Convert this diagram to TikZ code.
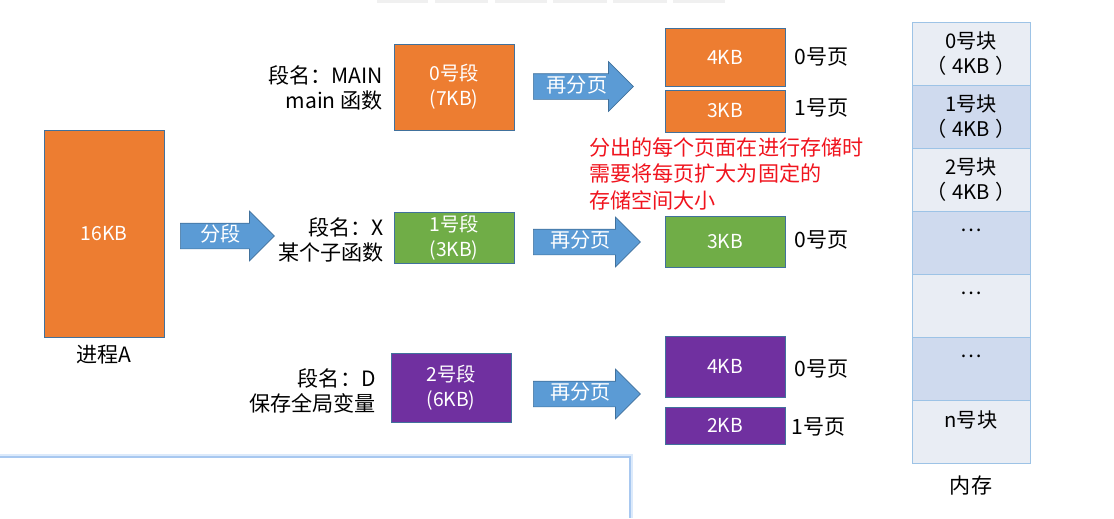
\documentclass[tikz,border=0pt]{standalone}
\usepackage{fontspec}
\setmainfont{Noto Sans CJK SC}
\usetikzlibrary{shapes.arrows,positioning}

\definecolor{segorange}{HTML}{ED7D31}
\definecolor{seggreen}{HTML}{70AD47}
\definecolor{segpurple}{HTML}{7030A0}
\definecolor{boxline}{HTML}{41719C}
\definecolor{arrowblue}{HTML}{5B9BD5}
\definecolor{memA}{HTML}{E9EDF4}
\definecolor{memB}{HTML}{CFDAEE}
\definecolor{memline}{HTML}{9DC3E6}
\definecolor{notered}{HTML}{F0141E}
\definecolor{panelglow}{HTML}{DCEAFB}
\definecolor{paneledge}{HTML}{A8C8F0}

\begin{document}
\begin{tikzpicture}[x=0.02cm, y=-0.02cm, every node/.style={font=\fontsize{12pt}{14pt}\selectfont}]
\tikzset{
  block/.style={draw=boxline, text=white, minimum width=2.4cm, align=center,
    inner sep=0pt, font=\fontsize{11pt}{14pt}\selectfont},
  splitarrow/.style={single arrow, draw=boxline, fill=arrowblue, text=white,
    anchor=tail, single arrow head extend=0.24cm, inner xsep=0.1cm, inner ysep=0.06cm,
    text height=0.3cm, text depth=0.08cm, font=\fontsize{11.5pt}{14pt}\selectfont},
  segname/.style={anchor=east, align=right, inner sep=0pt},
  pagename/.style={anchor=west, inner sep=0pt},
  memcell/.style={draw=memline, minimum width=2.36cm, minimum height=1.26cm,
    align=center, inner sep=0pt, font=\fontsize{11.5pt}{13.8pt}\selectfont}
}
\useasboundingbox (0,0) rectangle (1114,518);

% screen tabs at the top edge
\foreach \a/\b in {377/428, 435/488, 495/547, 553/607, 613/667, 673/725}
  \fill[gray!12] (\a,0) rectangle (\b,3);

% the process
\node[block, fill=segorange, minimum height=4.14cm] (proc) at (104,233.5) {16KB};
\node[below=1.5mm of proc, inner sep=0pt] (proclabel) {进程A};
\node[splitarrow, minimum height=1.88cm] (cut) at (180,236) {分段};

% segment 0
\node[block, fill=segorange, minimum height=1.72cm] (seg0) at (454,87) {0号段\\(7KB)};
\node[segname] (name0) at (383,88) {段名：MAIN\\main 函数};
\node[splitarrow, minimum height=2cm] (split0) at (533,86.5) {再分页};
\node[block, fill=segorange, minimum height=1.16cm] (p00) at (725,57) {4KB};
\node[block, fill=segorange, minimum height=0.84cm] (p01) at (725,111) {3KB};
\node[pagename] (l00) at (794,57) {0号页};
\node[pagename] (l01) at (794,108) {1号页};
\node[anchor=north west, align=left, text=notered, inner sep=0pt,
  font=\fontsize{12pt}{15.2pt}\selectfont] (note) at (589,137)
  {分出的每个页面在进行存储时\\需要将每页扩大为固定的\\存储空间大小};

% segment 1
\node[block, fill=seggreen, minimum height=1.02cm] (seg1) at (454,237.5) {1号段\\(3KB)};
\node[segname] (name1) at (384,240) {段名：X\\某个子函数};
\node[splitarrow, minimum height=2.14cm] (split1) at (533,242) {再分页};
\node[block, fill=seggreen, minimum height=1.02cm] (p10) at (725,241.5) {3KB};
\node[pagename] (l10) at (794,240) {0号页};

% segment 2
\node[block, fill=segpurple, minimum height=1.38cm] (seg2) at (451,387.5) {2号段\\(6KB)};
\node[segname] (name2) at (376,391) {段名：D\\保存全局变量};
\node[splitarrow, minimum height=2.14cm] (split2) at (533,394) {再分页};
\node[block, fill=segpurple, minimum height=1.22cm] (p20) at (725,366.5) {4KB};
\node[block, fill=segpurple, minimum height=0.74cm] (p21) at (725,425.5) {2KB};
\node[pagename] (l20) at (794,369) {0号页};
\node[pagename] (l21) at (791,427) {1号页};

% memory
\foreach \i/\c/\t in {0/memA/{0号块\\（\kern3pt 4KB\kern3pt）}, 1/memB/{1号块\\（\kern3pt 4KB\kern3pt）},
    2/memA/{2号块\\（\kern3pt 4KB\kern3pt）}, 3/memB/{…\\\mbox{}}, 4/memA/{…\\\mbox{}},
    5/memB/{…\\\mbox{}}, 6/memA/{n号块\\\mbox{}}}
  \node[memcell, fill=\c] (m\i) at (971,{53.5+63*\i}) {\t};
\node[below=2.5mm of m6, inner sep=0pt] (memlabel) {内存};

% panel at the bottom left
\fill[white] (0,457) rectangle (630,518);
\draw[panelglow, line width=2.4pt] (0,456) -- (631,456) -- (631,518);
\draw[paneledge, line width=0.7pt] (0,457) -- (630,457) -- (630,518);
\end{tikzpicture}
\end{document}
